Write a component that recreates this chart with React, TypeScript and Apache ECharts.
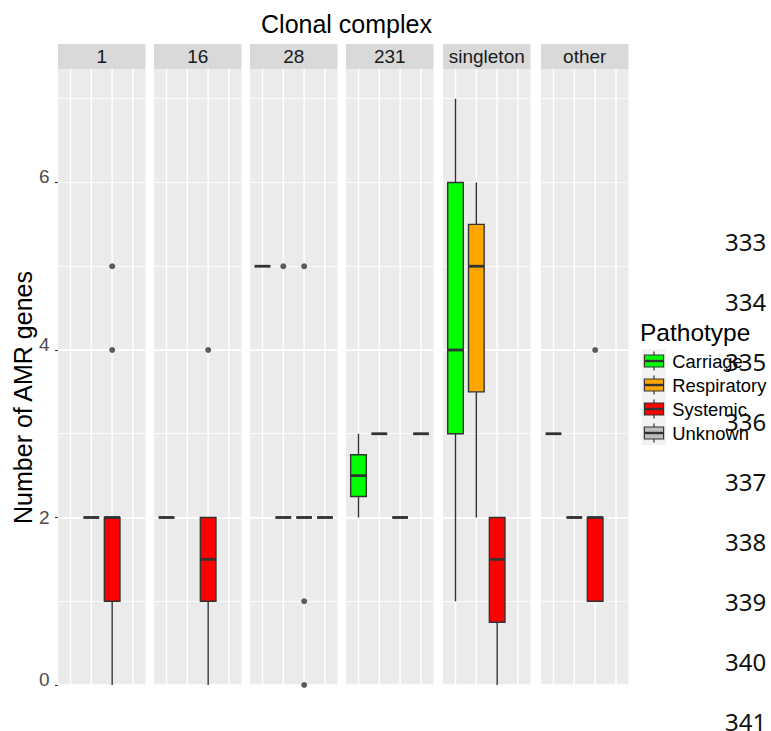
import React, { useEffect, useRef } from 'react';
import * as echarts from 'echarts';

// ---------- data ----------
const FACETS = ['1', '16', '28', '231', 'singleton', 'other'];
const PATHOTYPES = ['Carriage', 'Respiratory', 'Systemic', 'Unknown'];
const PATHOTYPE_COLORS = ['#00ff00', '#ffa500', '#ff0000', '#bebebe'];
const Y_TICKS = [0, 2, 4, 6];
const LINE_NUMBERS = ['333', '334', '335', '336', '337', '338', '339', '340', '341'];

// [pathotype index, lower whisker, Q1, median, Q3, upper whisker]
const BOXES_CC1 = [
  [1, 2, 2, 2, 2, 2],
  [2, 0, 1, 2, 2, 2],
];
const BOXES_CC16 = [
  [0, 2, 2, 2, 2, 2],
  [2, 0, 1, 1.5, 2, 2],
];
const BOXES_CC28 = [
  [0, 5, 5, 5, 5, 5],
  [1, 2, 2, 2, 2, 2],
  [2, 2, 2, 2, 2, 2],
  [3, 2, 2, 2, 2, 2],
];
const BOXES_CC231 = [
  [0, 2, 2.25, 2.5, 2.75, 3],
  [1, 3, 3, 3, 3, 3],
  [2, 2, 2, 2, 2, 2],
  [3, 3, 3, 3, 3, 3],
];
const BOXES_SINGLETON = [
  [0, 1, 3, 4, 6, 7],
  [1, 2, 3.5, 5, 5.5, 6],
  [2, 0, 0.75, 1.5, 2, 2],
];
const BOXES_OTHER = [
  [0, 3, 3, 3, 3, 3],
  [1, 2, 2, 2, 2, 2],
  [2, 1, 1, 2, 2, 2],
];

// [pathotype index, value]
const OUTLIERS_CC1 = [[2, 4], [2, 5]];
const OUTLIERS_CC16 = [[2, 4]];
const OUTLIERS_CC28 = [[1, 5], [2, 5], [2, 1], [2, 0]];
const OUTLIERS_CC231: number[][] = [];
const OUTLIERS_SINGLETON: number[][] = [];
const OUTLIERS_OTHER = [[2, 4]];

const FACET_BOXES = [BOXES_CC1, BOXES_CC16, BOXES_CC28, BOXES_CC231, BOXES_SINGLETON, BOXES_OTHER];
const FACET_OUTLIERS = [OUTLIERS_CC1, OUTLIERS_CC16, OUTLIERS_CC28, OUTLIERS_CC231, OUTLIERS_SINGLETON, OUTLIERS_OTHER];

// ---------- layout ----------
const W = 771;
const H = 731;
const FONT = "'Liberation Sans', Arial, Helvetica, sans-serif";
const PANEL_LEFTS = [58, 154, 250, 346, 443, 541];
const PANEL_W = 87.5;
const PANEL_TOP = 69;
const PANEL_H = 616;
const STRIP_TOP = 44;
const STRIP_H = 25;
const Y_MAX = 7.355;
const BOX_HALF = 0.375;
const LINE = '#333333';
const SMALL = 19;
const TITLE = 25;

function buildOption() {
  const grids = FACETS.map((_, i) => ({
    left: PANEL_LEFTS[i],
    top: PANEL_TOP,
    width: PANEL_W,
    height: PANEL_H,
    show: true,
    backgroundColor: '#ebebeb',
    borderWidth: 0,
    containLabel: false,
    outerBoundsMode: 'none',
  }));

  const xAxes = FACETS.map((_, i) => ({
    type: 'value',
    gridIndex: i,
    min: 0.4,
    max: 4.6,
    show: false,
  }));

  const majorY = FACETS.map((_, i) => ({
    type: 'value',
    gridIndex: i,
    min: 0,
    max: Y_MAX,
    interval: 2,
    axisLine: { show: false },
    axisTick: {
      show: i === 0,
      length: 3,
      customValues: Y_TICKS,
      lineStyle: { color: LINE, width: 1.1 },
    },
    axisLabel: {
      show: i === 0,
      customValues: Y_TICKS,
      margin: 8.5,
      formatter: (v: number) => (v === 2 ? `{n|${v}}` : `{u|${v}}`),
      rich: {
        n: { fontSize: SMALL, color: '#4d4d4d', fontFamily: FONT },
        u: { fontSize: SMALL, color: '#4d4d4d', fontFamily: FONT, padding: [0, 0, 11, 0] },
      },
    },
    splitLine: {
      show: true,
      showMaxLine: false,
      lineStyle: { color: '#ffffff', width: 1.5 },
    },
  }));

  const minorY = FACETS.map((_, i) => ({
    type: 'value',
    gridIndex: i,
    min: 0,
    max: Y_MAX,
    interval: 1,
    axisLine: { show: false },
    axisTick: { show: false },
    axisLabel: { show: false },
    splitLine: {
      show: true,
      showMaxLine: false,
      lineStyle: { color: '#ffffff', width: 0.8 },
    },
  }));

  const series: any[] = [];
  FACETS.forEach((_, i) => {
    // vertical grid lines at the pathotype positions
    series.push({
      type: 'custom',
      xAxisIndex: i,
      yAxisIndex: i,
      silent: true,
      z: 1,
      data: PATHOTYPES.map((_, k) => [k + 1, 0]),
      renderItem: (params: any, api: any) => {
        const x = api.coord([api.value(0), 0])[0];
        const cs = params.coordSys;
        return {
          type: 'line',
          shape: { x1: x, y1: cs.y, x2: x, y2: cs.y + cs.height },
          style: { stroke: '#ffffff', lineWidth: 1.5 },
        };
      },
    });

    // boxes
    series.push({
      type: 'custom',
      name: FACETS[i],
      xAxisIndex: i,
      yAxisIndex: i,
      z: 3,
      encode: { x: 0, y: [1, 2, 3, 4, 5] },
      data: FACET_BOXES[i].map((b) => [b[0] + 1, b[1], b[2], b[3], b[4], b[5]]),
      renderItem: (params: any, api: any) => {
        const x = api.value(0);
        const color = PATHOTYPE_COLORS[x - 1];
        const lo = api.coord([x, api.value(1)]);
        const q1 = api.coord([x - BOX_HALF, api.value(2)]);
        const med = api.coord([x - BOX_HALF, api.value(3)]);
        const q3 = api.coord([x + BOX_HALF, api.value(4)]);
        const hi = api.coord([x, api.value(5)]);
        return {
          type: 'group',
          children: [
            {
              type: 'line',
              shape: { x1: lo[0], y1: lo[1], x2: hi[0], y2: hi[1] },
              style: { stroke: LINE, lineWidth: 1.4 },
            },
            {
              type: 'rect',
              shape: { x: q1[0], y: q3[1], width: q3[0] - q1[0], height: q1[1] - q3[1] },
              style: { fill: color, stroke: LINE, lineWidth: 1.4 },
            },
            {
              type: 'line',
              shape: { x1: med[0], y1: med[1], x2: q3[0], y2: med[1] },
              style: { stroke: LINE, lineWidth: 2.8 },
            },
          ],
        };
      },
    });

    // outliers
    series.push({
      type: 'scatter',
      xAxisIndex: i,
      yAxisIndex: i,
      z: 4,
      symbol: 'circle',
      symbolSize: 6,
      itemStyle: { color: LINE },
      data: FACET_OUTLIERS[i].map((o) => [o[0] + 1, o[1]]),
    });
  });

  const graphics: any[] = [];
  // overall title
  graphics.push({
    type: 'text',
    x: 346.5,
    y: 24,
    style: {
      text: 'Clonal complex',
      fontSize: TITLE,
      fontFamily: FONT,
      fill: '#000000',
      align: 'center',
      verticalAlign: 'middle',
    },
  });
  // y axis title
  graphics.push({
    type: 'text',
    x: 23,
    y: 397.5,
    rotation: Math.PI / 2,
    style: {
      text: 'Number of AMR genes',
      fontSize: TITLE,
      fontFamily: FONT,
      fill: '#000000',
      align: 'center',
      verticalAlign: 'middle',
    },
  });
  // strips
  FACETS.forEach((f, i) => {
    graphics.push({
      type: 'rect',
      shape: { x: PANEL_LEFTS[i], y: STRIP_TOP, width: PANEL_W, height: STRIP_H },
      style: { fill: '#d9d9d9' },
    });
    graphics.push({
      type: 'text',
      x: PANEL_LEFTS[i] + PANEL_W / 2,
      y: STRIP_TOP + STRIP_H / 2,
      style: {
        text: f,
        fontSize: SMALL,
        fontFamily: FONT,
        fill: '#1a1a1a',
        align: 'center',
        verticalAlign: 'middle',
      },
    });
  });
  // legend
  const LEG_X = 642;
  const LEG_TOP = 349;
  const KEY = 24;
  graphics.push({
    type: 'text',
    x: 640,
    y: 332.4,
    style: {
      text: 'Pathotype',
      fontSize: 24.5,
      fontFamily: FONT,
      fill: '#000000',
      align: 'left',
      verticalAlign: 'middle',
    },
  });
  PATHOTYPES.forEach((p, k) => {
    const top = LEG_TOP + k * KEY;
    const cx = LEG_X + KEY / 2;
    graphics.push({
      type: 'rect',
      shape: { x: LEG_X, y: top, width: KEY, height: KEY },
      style: { fill: '#f2f2f2' },
    });
    graphics.push({
      type: 'line',
      shape: { x1: cx, y1: top + KEY * 0.1, x2: cx, y2: top + KEY * 0.9 },
      style: { stroke: LINE, lineWidth: 1.2 },
    });
    graphics.push({
      type: 'rect',
      shape: { x: LEG_X + KEY * 0.1, y: top + KEY * 0.25, width: KEY * 0.8, height: KEY * 0.5 },
      style: { fill: PATHOTYPE_COLORS[k], stroke: LINE, lineWidth: 1.2 },
    });
    graphics.push({
      type: 'line',
      shape: { x1: LEG_X + KEY * 0.1, y1: top + KEY / 2, x2: LEG_X + KEY * 0.9, y2: top + KEY / 2 },
      style: { stroke: LINE, lineWidth: 2.4 },
    });
    graphics.push({
      type: 'text',
      x: 672.3,
      y: top + KEY / 2,
      style: {
        text: p,
        fontSize: 18.4,
        fontFamily: FONT,
        fill: '#000000',
        align: 'left',
        verticalAlign: 'middle',
      },
    });
  });
  // document line numbers
  LINE_NUMBERS.forEach((n, k) => {
    graphics.push({
      type: 'text',
      x: 725,
      y: 241.7 + k * 60,
      z: 100,
      style: {
        text: n,
        fontSize: 24,
        fontFamily: "'Noto Sans', 'Open Sans', sans-serif",
        fill: '#111111',
        align: 'left',
        verticalAlign: 'middle',
      },
    });
  });

  return {
    animation: false,
    backgroundColor: '#ffffff',
    textStyle: { fontFamily: FONT },
    grid: grids,
    xAxis: xAxes,
    yAxis: [...majorY, ...minorY],
    series,
    graphic: { elements: graphics },
  };
}

export default function App() {
  const ref = useRef<HTMLDivElement>(null);
  useEffect(() => {
    if (!ref.current) return;
    const chart = echarts.init(ref.current, undefined, { renderer: 'svg', width: W, height: H });
    chart.setOption(buildOption() as any);
    return () => chart.dispose();
  }, []);
  return (
    <div
      ref={ref}
      style={{ position: 'fixed', left: 0, top: 0, width: W, height: H, background: '#fff' }}
    />
  );
}
